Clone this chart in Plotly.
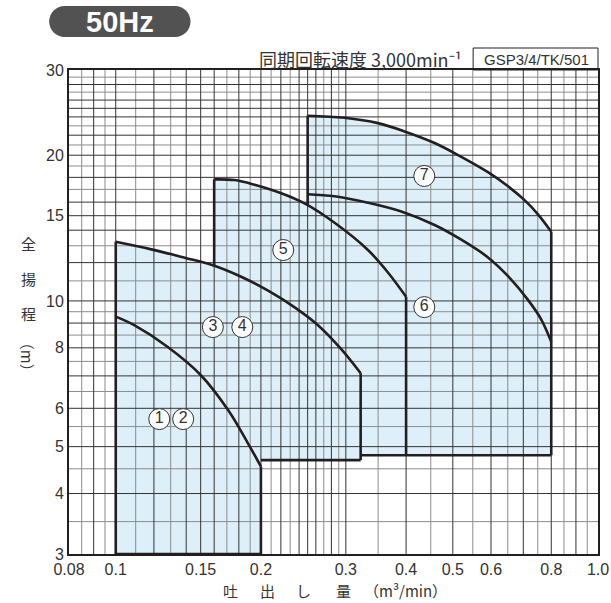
import plotly.graph_objects as go
import math

# ---------------- data ----------------
# pump (1)(2) performance curve
q12 = [0.100, 0.109, 0.128, 0.150, 0.171, 0.188, 0.200]
h12 = [9.28, 8.92, 8.04, 7.03, 5.95, 5.08, 4.55]
# pump (3)(4)
q34 = [0.100, 0.1185, 0.139, 0.159, 0.182, 0.207, 0.235, 0.263, 0.2935, 0.322]
h34 = [13.25, 12.78, 12.28, 11.85, 11.22, 10.5, 9.7, 8.9, 7.95, 7.09]
bottom34 = 4.69
# pump (5)
q5 = [0.160, 0.1764, 0.194, 0.2204, 0.2464, 0.2843, 0.3334, 0.3668, 0.400]
h5 = [17.83, 17.77, 17.38, 16.69, 15.9, 14.5, 12.74, 11.45, 10.2]
join5 = 11.85          # where the left edge of (5) meets curve (3)(4)
# pump (7)
q7 = [0.250, 0.2982, 0.3498, 0.3972, 0.4583, 0.5206, 0.5914, 0.6509, 0.7043, 0.7509, 0.800]
h7 = [24.14, 23.9, 23.3, 22.4, 21.2, 19.85, 18.45, 17.25, 16.15, 15.1, 13.9]
join7 = 15.8           # where the left edge of (7) meets curve (5)
# pump (6)
q6 = [0.250, 0.2843, 0.3334, 0.3909, 0.4583, 0.5206, 0.5914, 0.6509, 0.7158, 0.7628, 0.800]
h6 = [16.61, 16.45, 15.95, 15.3, 14.35, 13.38, 12.3, 11.25, 10.05, 9.15, 8.23]
bottom567 = 4.8
h_min = 3.0

# circled labels
label_text = ["1", "2", "3", "4", "5", "6", "7"]
label_q = [0.1231, 0.138, 0.159, 0.183, 0.2225, 0.4363, 0.4363]
label_h = [5.70, 5.70, 8.83, 8.83, 12.74, 9.71, 18.12]

# axes
x_range = [0.08, 1.0]
y_range = [3, 30]
x_tick_vals = [0.08, 0.1, 0.15, 0.2, 0.3, 0.4, 0.5, 0.6, 0.8, 1.0]
x_tick_text = ["0.08", "0.1", "0.15", "0.2", "0.3", "0.4", "0.5", "0.6", "0.8", "1.0"]
y_tick_vals = [3, 4, 5, 6, 8, 10, 15, 20, 30]
y_tick_text = ["3", "4", "5", "6", "8", "10", "15", "20", "30"]

# grid lines (dark / light)
x_grid_dark = [0.09, 0.1, 0.12, 0.14, 0.15, 0.16, 0.18, 0.2, 0.22, 0.24, 0.25, 0.26,
               0.28, 0.3, 0.4, 0.5, 0.6, 0.7, 0.8, 0.9]
x_grid_light = [0.085, 0.095, 0.11, 0.13, 0.17, 0.19, 0.21, 0.23, 0.27, 0.29,
                0.35, 0.45, 0.55, 0.65, 0.75, 0.85, 0.95]
y_grid_dark = [4, 5, 6, 7, 8, 9, 10, 12, 14, 15, 16, 18, 20, 22, 24, 25, 26, 28]
y_grid_light = [3.5, 4.5, 5.5, 6.5, 7.5, 8.5, 9.5, 11, 13, 17, 19, 21, 23, 27, 29]

FILL = "#ddf0f9"
EDGE = "#231f20"
DARK = "#333333"
LIGHT = "#8c8c8c"
TXT = "#333333"

fig = go.Figure()

# ---------------- fills (curve filled down to its base line) ----------------
def add_fill(qs, hs, base):
    fig.add_trace(go.Scatter(x=[qs[0], qs[-1]], y=[base, base], mode="lines",
                             line=dict(width=0, color=FILL), hoverinfo="skip", showlegend=False))
    fig.add_trace(go.Scatter(x=qs, y=hs, mode="lines", fill="tonexty", fillcolor=FILL,
                             line=dict(width=0, color=FILL, shape="spline"),
                             hoverinfo="skip", showlegend=False))

add_fill(q12, h12, h_min)
add_fill(q34, h34, bottom34)
add_fill(q5, h5, bottom567)
add_fill(q7, h7, bottom567)

# ---------------- grid (drawn above the fills) ----------------
def grid_trace(xv, yv, color, width):
    xs, ys = [], []
    for v in xv:
        xs += [v, v, None]
        ys += [y_range[0], y_range[1], None]
    for v in yv:
        xs += [x_range[0], x_range[1], None]
        ys += [v, v, None]
    fig.add_trace(go.Scatter(x=xs, y=ys, mode="lines", line=dict(color=color, width=width),
                             hoverinfo="skip", showlegend=False))

grid_trace(x_grid_light, y_grid_light, LIGHT, 1)
grid_trace(x_grid_dark, y_grid_dark, DARK, 1)

# ---------------- outlines ----------------
def edge(xs, ys, shape="linear"):
    fig.add_trace(go.Scatter(x=xs, y=ys, mode="lines",
                             line=dict(color=EDGE, width=2.6, shape=shape),
                             hoverinfo="skip", showlegend=False))

# (1)(2)
edge([q12[0], q12[0]], [h_min, h34[0]])
edge(q12, h12, "spline")
edge([q12[-1], q12[-1]], [h12[-1], h_min])
edge([q12[0], q12[-1]], [h_min, h_min])
# (3)(4)
edge(q34, h34, "spline")
edge([q34[-1], q34[-1]], [h34[-1], bottom34])
edge([q12[-1], q34[-1]], [bottom34, bottom34])
# (5)
edge([q5[0], q5[0]], [join5, h5[0]])
edge(q5, h5, "spline")
edge([q5[-1], q5[-1]], [h5[-1], bottom567])
edge([q34[-1], q7[-1]], [bottom567, bottom567])
# (7)
edge([q7[0], q7[0]], [join7, h7[0]])
edge(q7, h7, "spline")
edge([q7[-1], q7[-1]], [h7[-1], bottom567])
# (6)
edge(q6, h6, "spline")

# ---------------- circled labels ----------------
fig.add_trace(go.Scatter(
    x=label_q, y=label_h, mode="markers+text", text=label_text,
    textposition="middle center",
    textfont=dict(family="Liberation Sans, Arial", size=16, color=TXT),
    marker=dict(symbol="circle", size=21, color="white", line=dict(color=TXT, width=1)),
    hoverinfo="skip", showlegend=False))

# ---------------- layout ----------------
# the captured page comes out slightly narrower than laid out; widen the layout to match
SX = 1.017
W, H = round(611 * SX), 603
L, R, T, B = round(68 * SX), W - round(597 * SX), 70, 49
pw, ph = W - L - R, H - T - B

def px(xs):   # target picture pixel -> paper x
    return (xs * SX - L) / pw

def py(ys):   # target picture pixel -> paper y
    return (H - B - ys) / ph

fig.update_layout(
    width=W, height=H, autosize=False,
    margin=dict(l=L, r=R, t=T, b=B, pad=0),
    paper_bgcolor="white", plot_bgcolor="white",
    font=dict(family="Liberation Sans, Arial", color=TXT),
    xaxis=dict(type="log", range=[math.log10(x_range[0]), math.log10(x_range[1])],
               tickvals=x_tick_vals, ticktext=x_tick_text, showgrid=False, zeroline=False,
               showline=True, mirror=True, linecolor=EDGE, linewidth=2,
               tickfont=dict(size=16, color=TXT), ticks=""),
    yaxis=dict(type="log", range=[math.log10(y_range[0]), math.log10(y_range[1])],
               tickvals=y_tick_vals, ticktext=y_tick_text, showgrid=False, zeroline=False,
               showline=True, mirror=True, linecolor=EDGE, linewidth=2,
               tickfont=dict(size=16, color=TXT), ticks=""),
)

# 50Hz pill (pixel sized, anchored at plot top)
r = 15.5
k = 0.5523 * r
x0p, x1p = 0, 139 * SX
y0p, y1p = 70 - 37, 70 - 6
path = (f"M {x0p + r},{y0p} L {x1p - r},{y0p} "
        f"C {x1p - r + k},{y0p} {x1p},{y0p + r - k} {x1p},{y0p + r} "
        f"C {x1p},{y0p + r + k} {x1p - r + k},{y1p} {x1p - r},{y1p} "
        f"L {x0p + r},{y1p} "
        f"C {x0p + r - k},{y1p} {x0p},{y0p + r + k} {x0p},{y0p + r} "
        f"C {x0p},{y0p + r - k} {x0p + r - k},{y0p} {x0p + r},{y0p} Z")
fig.add_shape(type="path", xref="paper", yref="paper", xsizemode="pixel", ysizemode="pixel",
              xanchor=px(48), yanchor=1.0, path=path, fillcolor="#525252",
              line=dict(width=0))
fig.add_annotation(x=px(119), y=py(22), xref="paper", yref="paper", text="<b>50Hz</b>",
                   showarrow=False, font=dict(size=29, color="white", family="Liberation Sans, Arial"),
                   xanchor="center", yanchor="middle")

# model box
fig.add_shape(type="rect", xref="paper", yref="paper", x0=px(472), x1=1.0, y0=1.0, y1=py(48),
              line=dict(color=EDGE, width=1), fillcolor="rgba(0,0,0,0)")
fig.add_annotation(x=px(535), y=py(59.5), xref="paper", yref="paper", text="GSP3/4/TK/501",
                   showarrow=False, font=dict(size=15, color=TXT), xanchor="center", yanchor="middle")
fig.add_annotation(x=px(463), y=py(59), xref="paper", yref="paper",
                   text="同期回転速度 3,000min⁻¹",
                   showarrow=False, font=dict(size=18, color=TXT,
                                              family="Noto Sans CJK JP, Liberation Sans"),
                   xanchor="right", yanchor="middle")

# y-axis title (vertical)
for ch, yy in [("全", 243), ("揚", 278), ("程", 313)]:
    fig.add_annotation(x=px(27), y=py(yy), xref="paper", yref="paper", text=ch, showarrow=False,
                       font=dict(size=15, color=TXT, family="Noto Sans CJK JP"),
                       xanchor="center", yanchor="middle")
fig.add_annotation(x=px(27), y=py(357), xref="paper", yref="paper", text="（m）", showarrow=False,
                   textangle=90, font=dict(size=15, color=TXT, family="Noto Sans CJK JP"),
                   xanchor="center", yanchor="middle")

# x-axis title
for ch, xx in [("吐", 229), ("出", 266), ("し", 302), ("量", 342)]:
    fig.add_annotation(x=px(xx), y=py(590), xref="paper", yref="paper", text=ch, showarrow=False,
                       font=dict(size=15, color=TXT, family="Noto Sans CJK JP"),
                       xanchor="center", yanchor="middle")
fig.add_annotation(x=px(404), y=py(590), xref="paper", yref="paper", text="（m³/min）",
                   showarrow=False, font=dict(size=15, color=TXT, family="Noto Sans CJK JP, Liberation Sans"),
                   xanchor="center", yanchor="middle")

# the page body normally adds an 8 px margin; remove it so the figure fills the window
fig.write_html("out.html", config={"displayModeBar": False, "responsive": False},
               post_script="document.body.style.margin='0px';document.body.style.overflow='hidden';")
